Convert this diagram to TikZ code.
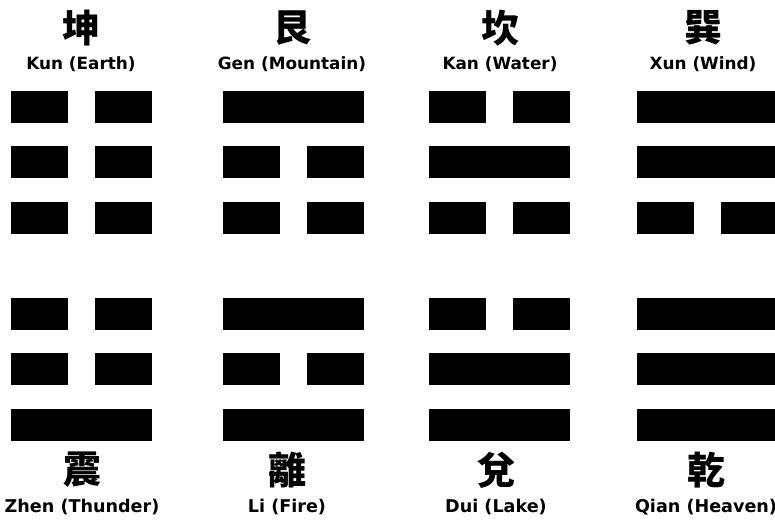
\documentclass[tikz,border=0pt]{standalone}
\usepackage{fontspec}
\setmainfont{DejaVu Sans}
\newfontfamily\cjk{Noto Sans CJK TC}
\newcommand\yangline[2]{\fill[bar] (#1,#2) rectangle ++(141,32);}
\newcommand\yinline[2]{\fill[bar] (#1,#2) rectangle ++(57,32); \fill[bar] (#1+84,#2) rectangle ++(57,32);}

\begin{document}
\begin{tikzpicture}[x=0.025cm, y=-0.025cm, bar/.style={fill=black}, glyph/.style={font=\cjk\bfseries\fontsize{27}{27}\selectfont, inner sep=0pt}, topname/.style={font=\bfseries\fontsize{12}{12}\selectfont, inner sep=0pt}, lowname/.style={font=\bfseries\fontsize{12.5}{12.5}\selectfont, inner sep=0pt}]
\useasboundingbox (0,0) rectangle (775,519);
% upper row of trigrams
\node[glyph] (kun) at (81,28) {坤}; \node[topname] (kunname) at (81,64) {Kun (Earth)};
\yinline{11}{91} \yinline{11}{146} \yinline{11}{202}
\node[glyph] (gen) at (292,28) {艮}; \node[topname] (genname) at (292,64) {Gen (Mountain)};
\yangline{223}{91} \yinline{223}{146} \yinline{223}{202}
\node[glyph] (kan) at (500,28) {坎}; \node[topname] (kanname) at (500,64) {Kan (Water)};
\yinline{429}{91} \yangline{429}{146} \yinline{429}{202}
\node[glyph] (xun) at (703,28) {巽}; \node[topname] (xunname) at (703,64) {Xun (Wind)};
\yangline{637}{91} \yangline{637}{146} \yinline{637}{202}
% lower row of trigrams
\yinline{11}{298} \yinline{11}{353} \yangline{11}{409}
\node[glyph] (zhen) at (82,470) {震}; \node[lowname] (zhenname) at (82,507) {Zhen (Thunder)};
\yangline{223}{298} \yinline{223}{353} \yangline{223}{409}
\node[glyph] (li) at (287,470) {離}; \node[lowname] (liname) at (287,507) {Li (Fire)};
\yinline{429}{298} \yangline{429}{353} \yangline{429}{409}
\node[glyph] (dui) at (496,470) {兌}; \node[lowname] (duiname) at (496,507) {Dui (Lake)};
\yangline{637}{298} \yangline{637}{353} \yangline{637}{409}
\node[glyph] (qian) at (706,470) {乾}; \node[lowname] (qianname) at (706,507) {Qian (Heaven)};
\end{tikzpicture}
\end{document}
